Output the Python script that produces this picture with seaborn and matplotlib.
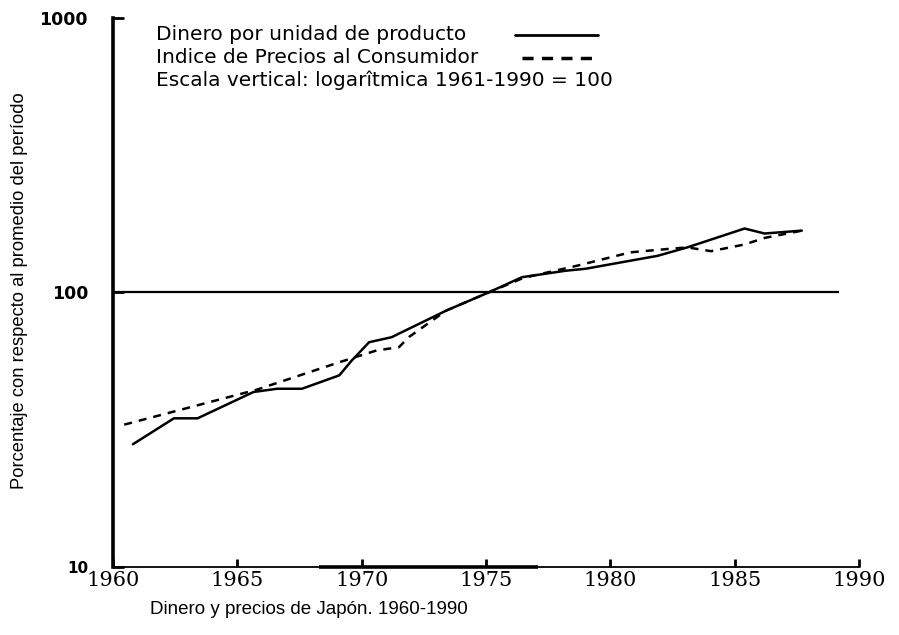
import matplotlib
matplotlib.use('Agg')
import pandas as pd
import matplotlib.pyplot as plt
import seaborn as sns
from matplotlib import font_manager

# Dinero por unidad de producto (1961-1990 = 100)
money_years = [1960.8, 1962.45, 1963.4, 1965.65, 1966.6, 1967.6, 1969.1, 1969.6, 1970.3, 1971.2,
               1973.4, 1975.1, 1976.45, 1978.2, 1979.0, 1981.9, 1983.1, 1985.4, 1986.2, 1987.7]
money_vals = [28, 34.8, 34.8, 43.4, 44.6, 44.6, 49.9, 56.5, 65.9, 68.7,
              85.9, 100, 113.7, 120, 122, 136, 146, 171, 164, 168]

# Indice de Precios al Consumidor
cpi_years = [1960.45, 1965.8, 1969.1, 1970.6, 1971.5, 1971.9, 1973.4, 1975.1, 1976.5,
             1978.7, 1980.8, 1982.3, 1983.1, 1984.05, 1985.4, 1986.2, 1987.7]
cpi_vals = [33.0, 44.3, 55.7, 61.5, 63.2, 68.8, 85.9, 100, 113,
            125.4, 140, 144, 146, 141.4, 149.6, 158, 168]

legend_labels = ['Dinero por unidad de producto', 'Indice de Precios al Consumidor',
                 'Escala vertical: logarîtmica 1961-1990 = 100']
x_ticks = [1960, 1965, 1970, 1975, 1980, 1985, 1990]
y_ticks = [10, 100, 1000]

money = pd.DataFrame({'year': money_years, 'value': money_vals})
cpi = pd.DataFrame({'year': cpi_years, 'value': cpi_vals})

sns.set_style('white', rc={'text.color': 'black', 'xtick.color': 'black',
                           'ytick.color': 'black', 'axes.labelcolor': 'black'})
names = {f.name for f in font_manager.fontManager.ttflist}
narrow = 'Liberation Sans Narrow' if 'Liberation Sans Narrow' in names else 'Liberation Sans'

fig = plt.figure(figsize=(8.99, 6.35), dpi=100)
ax = fig.add_axes([0.1257, 0.1071, 0.8298, 0.8646])

sns.lineplot(data=money, x='year', y='value', ax=ax, color='black', lw=1.8,
             estimator=None, sort=False)
sns.lineplot(data=cpi, x='year', y='value', ax=ax, color='black', lw=1.8,
             linestyle=(0, (3.2, 2.8)), estimator=None, sort=False)
ax.hlines(100, 1960, 1989.2, color='black', lw=1.6)
# heavier stretch of the baseline, as in the printed figure
ax.hlines(10, 1968.3, 1977.1, color='black', lw=2.6, clip_on=False)

ax.set_yscale('log')
ax.set_xlim(1960, 1990)
ax.set_ylim(10, 1000)
ax.set_xticks(x_ticks)
ax.set_xticklabels([str(t) for t in x_ticks], family='DejaVu Serif', fontsize=15)
ax.set_yticks(y_ticks)
ax.set_yticklabels([str(t) for t in y_ticks], family='DejaVu Sans', fontsize=12.5, weight='bold')
ax.yaxis.set_minor_locator(matplotlib.ticker.NullLocator())
ax.tick_params(axis='x', direction='in', length=6, width=2, pad=3, bottom=True)
ax.tick_params(axis='y', direction='in', length=8, width=2, pad=18, left=True)
ax.get_yticklabels()[0].set_fontsize(11)
ax.set_xlabel('')
ax.set_ylabel('')

sns.despine(ax=ax)
ax.spines['left'].set_linewidth(2.6)
ax.spines['bottom'].set_linewidth(1.3)
for s in ['left', 'bottom']:
    ax.spines[s].set_color('black')

# legend written as text lines with the line keys to the right
ys = [0.969, 0.928, 0.887]
for label, y in zip(legend_labels, ys):
    ax.text(0.057, y, label, transform=ax.transAxes, family='DejaVu Sans',
            fontsize=14.5, va='center', ha='left', color='black')
ax.plot([0.539, 0.650], [ys[0], ys[0]], transform=ax.transAxes, color='black', lw=2)
ax.plot([0.548, 0.643], [ys[1], ys[1]], transform=ax.transAxes, color='black', lw=2.5,
        linestyle=(0, (3.2, 2.4)))

fig.text(0.022, 1 - 291 / 635, 'Porcentaje con respecto al promedio del período',
         rotation=90, ha='center', va='center', family=narrow, fontsize=13.2, color='black')
fig.text(150 / 899, 1 - 609 / 635, 'Dinero y precios de Japón. 1960-1990',
         ha='left', va='center', family=narrow, fontsize=13.5, color='black')

fig.savefig('out.png', dpi=100)
